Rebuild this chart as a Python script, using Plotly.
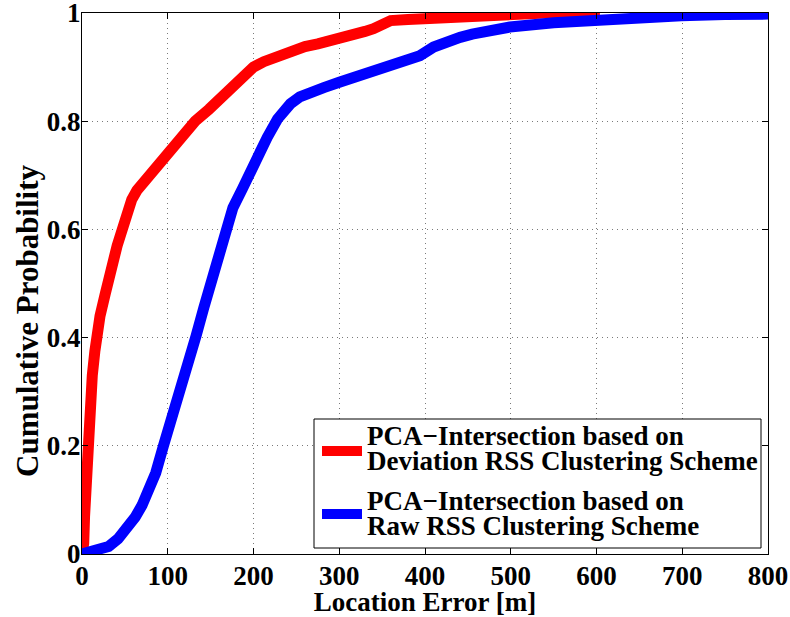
import plotly.graph_objects as go

# Empirical CDF of location error for the two clustering schemes
dev_err = [0, 2, 3, 5, 7, 9, 12, 15, 17, 21, 27, 31, 35, 41, 47, 52, 58, 64, 72,
           80, 92, 105, 118, 132, 148, 163, 178, 190, 200, 212, 225, 236, 247,
           260, 275, 290, 301, 318, 330, 340, 346, 352, 360, 380, 400, 425, 449,
           475, 499, 540, 604]
dev_cdf = [0, 0.02, 0.07, 0.15, 0.22, 0.27, 0.33, 0.375, 0.40, 0.44, 0.48, 0.51,
           0.54, 0.57, 0.60, 0.63, 0.655, 0.672, 0.688, 0.70, 0.725, 0.75, 0.775,
           0.80, 0.822, 0.843, 0.864, 0.884, 0.90, 0.91, 0.918, 0.925, 0.932,
           0.938, 0.943, 0.948, 0.953, 0.96, 0.966, 0.971, 0.977, 0.984, 0.986,
           0.988, 0.99, 0.993, 0.996, 0.998, 0.999, 1.0, 1.0]

raw_err = [0, 10, 20, 31, 42, 55, 62, 70, 78, 86, 95, 102, 109, 120, 133, 142,
           152, 159, 166, 176, 187, 196, 204, 216, 228, 236, 243, 254, 266, 282,
           300, 315, 330, 351, 372, 394, 410, 425, 441, 455, 470, 499, 550, 600,
           650, 699, 750, 800]
raw_cdf = [0, 0.003, 0.007, 0.014, 0.028, 0.05, 0.068, 0.09, 0.118, 0.15, 0.2,
           0.235, 0.273, 0.33, 0.403, 0.455, 0.508, 0.555, 0.60, 0.64, 0.675,
           0.706, 0.736, 0.77, 0.804, 0.82, 0.832, 0.845, 0.854, 0.862, 0.872,
           0.88, 0.887, 0.9, 0.91, 0.921, 0.937, 0.947, 0.955, 0.961, 0.966,
           0.974, 0.982, 0.988, 0.992, 0.995, 0.997, 0.998]

x_ticks = [0, 100, 200, 300, 400, 500, 600, 700, 800]
y_ticks = [0, 0.2, 0.4, 0.6, 0.8, 1]
y_tick_text = ["0", "0.2", "0.4", "0.6", "0.8", "1"]

series_colors = ["#ff0000", "#0000ff"]
legend_lines = [
    ["PCA\u2212Intersection based on", "Deviation RSS Clustering Scheme"],
    ["PCA\u2212Intersection based on", "Raw RSS Clustering Scheme"],
]

FONT = "Liberation Serif, Times New Roman, serif"
W, H = 790, 617
M = dict(l=82, r=22, t=13, b=63)


def px_x(px):
    """Horizontal pixel position -> paper fraction of the plot area."""
    return (px - M["l"]) / (W - M["l"] - M["r"])


def px_y(py):
    """Vertical pixel position (from top) -> paper fraction of the plot area."""
    return (H - M["b"] - py) / (H - M["t"] - M["b"])


fig = go.Figure()
fig.add_trace(go.Scatter(x=dev_err, y=dev_cdf, mode="lines",
                         name=" ".join(legend_lines[0]),
                         line=dict(color=series_colors[0], width=11)))
fig.add_trace(go.Scatter(x=raw_err, y=raw_cdf, mode="lines",
                         name=" ".join(legend_lines[1]),
                         line=dict(color=series_colors[1], width=11)))

axis_common = dict(
    showline=True, linecolor="black", linewidth=1, mirror="ticks",
    ticks="inside", ticklen=6, tickcolor="black", tickwidth=1,
    showgrid=True, gridcolor="#7a7a7a", gridwidth=1, griddash="1px,4px",
    zeroline=False, automargin=False, ticklabeloverflow="allow",
    tickfont=dict(family=FONT, size=27, color="black", weight="bold"),
)

fig.update_xaxes(range=[0, 800], tickvals=x_ticks, ticklabelstandoff=-2,
                 **axis_common,
                 title=dict(text="Location Error [m]", standoff=0,
                            font=dict(family=FONT, size=27, color="black",
                                      weight="bold")))
fig.update_yaxes(range=[0, 1], tickvals=y_ticks, ticktext=y_tick_text,
                 ticklabelstandoff=-5, **axis_common)

# y-axis label as rotated text beside the tick labels
fig.add_annotation(text="Cumulative Probability", textangle=-90,
                   xref="paper", yref="paper", x=px_x(27), y=px_y(321),
                   xanchor="center", yanchor="middle", showarrow=False,
                   font=dict(family=FONT, size=31, color="black",
                             weight="bold"))

# Legend box in the lower-right corner, two-line entries
fig.add_shape(type="rect", xref="paper", yref="paper",
              x0=px_x(314), x1=px_x(761), y0=px_y(548), y1=px_y(419),
              line=dict(color="black", width=1), fillcolor="white", layer="above")
sample_y = [451, 514]
text_y = [[436, 461], [501, 526]]
for color, sy, lines, ty in zip(series_colors, sample_y, legend_lines, text_y):
    fig.add_shape(type="line", xref="paper", yref="paper",
                  x0=px_x(322), x1=px_x(362), y0=px_y(sy), y1=px_y(sy),
                  line=dict(color=color, width=10), layer="above")
    for txt, yy in zip(lines, ty):
        fig.add_annotation(text=txt, xref="paper", yref="paper",
                           x=px_x(365), y=px_y(yy), xanchor="left",
                           yanchor="middle", showarrow=False,
                           font=dict(family=FONT, size=27, color="black",
                                     weight="bold"))

fig.update_layout(
    width=W, height=H,
    margin=M,
    paper_bgcolor="white", plot_bgcolor="white",
    showlegend=False,
)

fig.write_html("out.html")
